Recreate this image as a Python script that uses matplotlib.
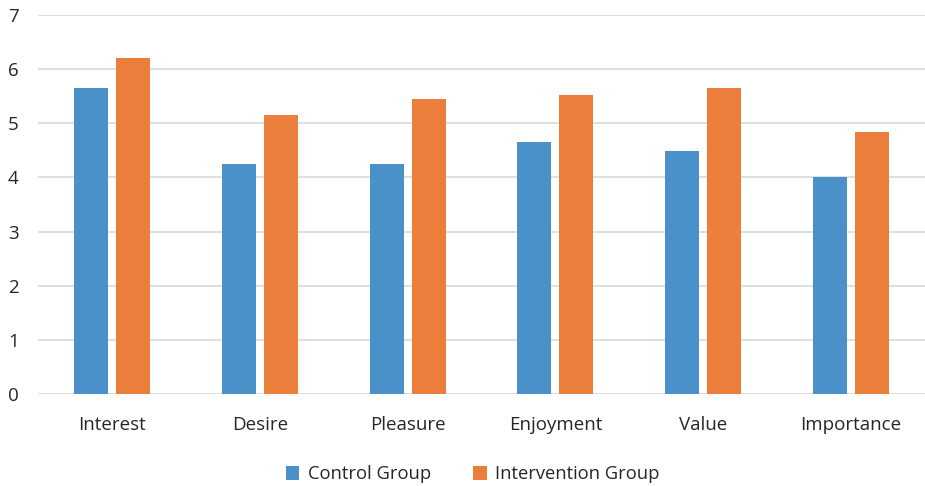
import matplotlib
matplotlib.use("Agg")
import matplotlib.pyplot as plt
import numpy as np

categories = ["Interest", "Desire", "Pleasure", "Enjoyment", "Value", "Importance"]
control = [5.65, 4.24, 4.24, 4.66, 4.49, 4.00]
intervention = [6.21, 5.16, 5.45, 5.53, 5.65, 4.84]
series_names = ["Control Group", "Intervention Group"]
yticks = [0, 1, 2, 3, 4, 5, 6, 7]

plt.rcParams['font.family'] = ['Open Sans', 'DejaVu Sans']

fig = plt.figure(figsize=(9.25, 4.86), dpi=100)
ax = fig.add_axes([38/925, 1-394/486, 887/925, 379/486])

x = np.arange(len(categories))
w = 0.23
gap = 0.054
c1 = "#4A90C9"
c2 = "#EB7E3B"
ax.bar(x - (w+gap)/2, control, width=w, color=c1, label=series_names[0], zorder=3)
ax.bar(x + (w+gap)/2, intervention, width=w, color=c2, label=series_names[1], zorder=3)

ax.set_xlim(-0.5, len(categories)-0.5)
ax.set_ylim(0, 7)
ax.set_yticks(yticks)
ax.set_xticks(x)
ax.set_xticklabels(categories)
for s in ax.spines.values():
    s.set_visible(False)
ax.yaxis.grid(True, color="#D9D9D9", linewidth=1.2, zorder=0)
ax.tick_params(axis='both', length=0, labelsize=13.5, colors="#262626")
ax.tick_params(axis='x', pad=16)
ax.tick_params(axis='y', pad=14)

leg = ax.legend(loc='upper center', bbox_to_anchor=(0.49, -0.145), ncol=2, frameon=False,
                fontsize=13.2, handlelength=0.75, handleheight=0.75, columnspacing=2.3, handletextpad=0.45)
for t in leg.get_texts():
    t.set_color("#262626")

fig.savefig("out.png", dpi=100)
